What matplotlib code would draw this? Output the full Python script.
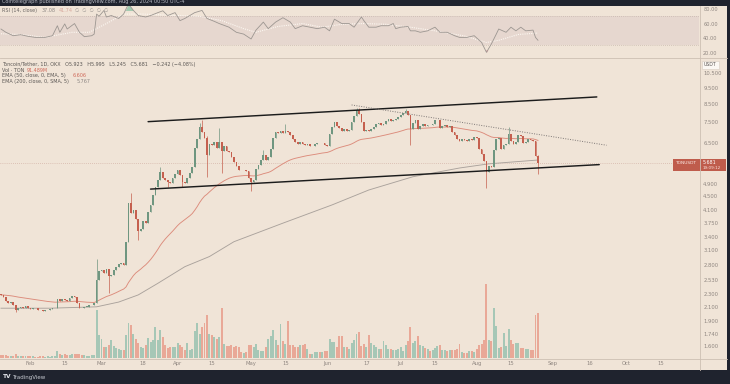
import numpy as np
import pandas as pd
import matplotlib
matplotlib.use("Agg")
import matplotlib.pyplot as plt
import matplotlib.dates as mdates
from matplotlib.patches import Rectangle
from matplotlib.ticker import FixedLocator, FixedFormatter, NullLocator

W, H = 730, 384

# ---- daily TON/USDT candles, 2024-01-20 .. 2024-08-26 ----
dates = pd.date_range("2024-01-20", "2024-08-26", freq="D")
first_open = 2.30
closes = [
    # Jan 20-31
    2.28, 2.24, 2.18, 2.16, 2.17, 2.13, 2.06, 2.08, 2.10, 2.09, 2.11, 2.08,
    # Feb
    2.07, 2.09, 2.08, 2.06, 2.05, 2.04, 2.05, 2.06, 2.07, 2.08, 2.09, 2.21, 2.18, 2.22, 2.20,
    2.19, 2.23, 2.27, 2.24, 2.16, 2.09, 2.08, 2.10, 2.10, 2.12, 2.13, 2.15, 2.52, 2.68,
    # Mar
    2.70, 2.66, 2.72, 2.60, 2.62, 2.70, 2.76, 2.82, 2.84, 2.80, 3.29, 4.30, 4.02, 4.10, 3.85,
    3.55, 3.60, 3.80, 3.75, 4.05, 4.25, 4.55, 4.80, 5.05, 5.33, 5.10, 5.05, 4.95, 4.92, 5.10, 5.25,
    # Apr
    5.40, 5.20, 4.95, 4.92, 5.10, 5.30, 5.50, 6.30, 6.70, 7.27, 7.00, 6.72, 6.00, 6.45, 6.40,
    6.55, 6.30, 6.55, 6.15, 6.35, 6.15, 6.10, 5.90, 5.70, 5.55, 5.40, 5.38, 5.40, 5.35, 5.10,
    # May
    4.95, 5.05, 5.45, 5.60, 5.80, 6.00, 5.80, 5.90, 6.25, 6.75, 7.00, 6.95, 7.05, 6.98, 7.05,
    7.00, 6.85, 6.70, 6.55, 6.45, 6.55, 6.45, 6.40, 6.45, 6.35, 6.38, 6.45, 6.50, 6.48, 6.52, 6.42,
    # Jun
    6.38, 6.90, 7.25, 7.52, 7.30, 7.20, 7.05, 7.15, 7.05, 7.10, 7.50, 7.85, 8.15, 7.95, 7.50,
    7.05, 7.12, 7.05, 7.15, 7.25, 7.40, 7.45, 7.38, 7.42, 7.55, 7.65, 7.55, 7.62, 7.68, 7.75,
    # Jul
    7.90, 8.00, 8.10, 7.90, 7.16, 7.45, 7.62, 7.15, 7.30, 7.40, 7.30, 7.38, 7.35, 7.42, 7.60,
    7.62, 7.22, 7.30, 7.35, 7.28, 7.30, 7.00, 6.85, 6.70, 6.60, 6.68, 6.62, 6.60, 6.70, 6.65, 6.78,
    # Aug 1-26
    6.75, 6.22, 6.02, 5.75, 5.33, 5.55, 5.50, 6.20, 6.70, 6.72, 6.25, 6.40, 6.45, 6.90, 6.60,
    6.45, 6.55, 6.85, 6.82, 6.50, 6.55, 6.70, 6.65, 6.58, 5.923, 5.681,
]
volumes = [  # million TON
    7, 6, 6, 5, 5, 5, 8, 5, 4, 4, 5, 4,
    4, 4, 3, 3, 4, 4, 3, 4, 3, 4, 5, 15, 8, 7, 8, 7, 6, 8, 9, 8, 9, 7, 6, 5, 5, 6, 7, 97, 46,
    39, 22, 22, 26, 36, 24, 20, 18, 16, 16, 46, 71, 67, 49, 39, 30, 22, 20, 26, 41, 33, 36, 63,
    36, 56, 43, 26, 20, 22, 22, 22,
    30, 26, 22, 16, 30, 16, 18, 54, 71, 49, 63, 70, 88, 49, 46, 43, 39, 43, 102, 29, 25, 24, 26,
    23, 24, 22, 12, 11, 13, 26,
    26, 22, 28, 16, 15, 14, 22, 39, 45, 56, 36, 26, 68, 35, 29, 74, 26, 26, 22, 22, 26, 26, 29,
    18, 9, 9, 12, 12, 12, 12, 14,
    14, 38, 33, 33, 22, 44, 44, 22, 22, 18, 30, 36, 49, 53, 24, 29, 22, 47, 30, 26, 22, 18, 18,
    34, 26, 18, 18, 16, 16, 18,
    22, 14, 26, 34, 62, 30, 34, 44, 26, 24, 20, 18, 14, 16, 20, 24, 26, 16, 16, 14, 16, 16, 16,
    18, 28, 12, 10, 10, 14, 14, 12,
    18, 26, 28, 37, 150, 36, 34, 101, 65, 20, 22, 51, 25, 59, 36, 28, 30, 30, 20, 20, 18, 18,
    17, 17, 87, 91.489,
]
wick_high = {"2024-02-28": 2.93, "2024-03-13": 4.59, "2024-03-25": 5.50, "2024-04-10": 7.45,
             "2024-04-11": 7.64, "2024-04-13": 6.80, "2024-04-18": 7.20, "2024-05-06": 6.20,
             "2024-05-15": 7.43, "2024-06-13": 8.25, "2024-06-14": 8.30, "2024-07-03": 8.20,
             "2024-08-14": 7.27, "2024-08-26": 5.995}
wick_low = {"2024-01-26": 2.03, "2024-03-04": 2.31, "2024-03-16": 3.33, "2024-03-28": 4.80,
            "2024-04-03": 4.80, "2024-04-13": 5.15, "2024-04-19": 5.30, "2024-05-01": 4.66,
            "2024-07-05": 6.43, "2024-08-05": 4.76, "2024-08-26": 5.245}

# 200-day SMA
sma200_dates = ["2024-01-20", "2024-02-09", "2024-02-28", "2024-03-08", "2024-03-16",
                "2024-03-24", "2024-04-04", "2024-04-14", "2024-04-24", "2024-05-14",
                "2024-06-03", "2024-06-18", "2024-07-06", "2024-07-25", "2024-08-06", "2024-08-26"]
sma200_vals = [2.08, 2.08, 2.10, 2.17, 2.28, 2.47, 2.77, 2.97, 3.29, 3.74, 4.24, 4.70, 5.15,
               5.47, 5.63, 5.78]

# RSI pane (days after 2024-02-01)
rsi_days = [-12, -10, -7, -4, -1, 2, 6, 9, 11, 12, 14, 15, 18, 20, 22, 25, 26, 27, 28, 30, 31,
            33, 36, 38, 40, 42, 44, 47, 49, 52, 54, 56, 59, 61, 63, 67, 70, 72, 75, 77, 81, 84,
            87, 90, 92, 95, 97, 100, 103, 106, 108, 111, 114, 117, 120, 122, 124, 126, 127, 130,
            132, 135, 136, 138, 141, 143, 146, 148, 149, 151, 154, 155, 157, 159, 162, 165, 167,
            170, 173, 175, 178, 181, 184, 186, 188, 190, 191, 194, 196, 198, 200, 202, 205, 206,
            207]
rsi_vals = [52.5, 48, 43.3, 44.7, 42.5, 41, 41, 43.3, 57, 48, 59.5, 52.5, 60, 48, 42, 43.3,
            45.5, 73, 70, 78, 69, 71, 67, 73, 87, 78, 71, 69, 71, 75, 77.5, 71, 75, 64, 67, 75,
            78, 67, 63, 60, 55, 48, 45.5, 38.8, 51, 62, 53, 62, 68, 62, 53, 57, 55, 53, 55, 50,
            66, 62, 60, 60, 55, 69, 64, 55, 55, 57, 57, 60, 53, 55, 56, 50, 50, 48, 50, 55, 48,
            48, 43.3, 41, 41, 43.3, 34.2, 20.5, 32, 45.5, 52.5, 48, 55, 50, 55, 50, 51, 41, 37.08]
rsi_ma_days = [-12, -4, 6, 17, 24, 31, 38, 46, 53, 60, 69, 78, 87, 92, 101, 111, 119, 127, 136,
               145, 155, 165, 177, 186, 191, 199, 207]
rsi_ma_vals = [46, 45, 41, 48, 48, 60, 73, 73, 72, 71, 70, 64, 53, 48, 56, 60, 55, 59, 60, 59,
               55, 50, 43, 34, 37, 45, 47]

# drawn trendlines (date, price)
channel_top_dates, channel_top_vals = ["2024-03-20", "2024-09-19"], [7.53, 8.93]
channel_bot_dates, channel_bot_vals = ["2024-03-21", "2024-09-20"], [4.73, 5.60]
resist_dates, resist_vals = ["2024-06-11", "2024-09-23"], [8.45, 6.40]

price_ticks = [10.5, 9.5, 8.5, 7.5, 6.5, 4.9, 4.5, 4.1, 3.75, 3.4, 3.1, 2.8, 2.53, 2.3, 2.1,
               1.9, 1.74, 1.6]
rsi_ticks = [80, 60, 40, 20]
time_ticks = ["2024-02-01", "2024-02-15", "2024-03-01", "2024-03-18", "2024-04-01",
              "2024-04-15", "2024-05-01", "2024-05-15", "2024-06-01", "2024-06-17",
              "2024-07-01", "2024-07-15", "2024-08-01", "2024-08-15", "2024-09-01",
              "2024-09-16", "2024-10-01", "2024-10-15"]
time_labels = ["Feb", "15", "Mar", "18", "Apr", "15", "May", "15", "Jun", "17", "Jul", "15",
               "Aug", "15", "Sep", "16", "Oct", "15"]

# colours
BG = "#f0e4d7"
DARK = "#1f232e"
UP, DOWN = "#6f9680", "#c5604f"
VUP, VDOWN = "#a6c7b6", "#e9a897"
AXC = "#8f8680"
SEP = "#cdbfb3"

opens = [first_open] + closes[:-1]
highs, lows = [], []
for d, o, c in zip(dates, opens, closes):
    k = d.strftime("%Y-%m-%d")
    highs.append(wick_high.get(k, max(o, c)))
    lows.append(wick_low.get(k, min(o, c)))

xs = mdates.date2num(dates)
base = mdates.date2num(pd.Timestamp("2024-02-01"))
xlim = (base - 12.40, base + 272.68)
ema50 = pd.Series(closes).ewm(span=50, adjust=False).mean()

def frac(x0, y0, x1, y1):
    return [x0 / W, 1 - y1 / H, (x1 - x0) / W, (y1 - y0) / H]

fig = plt.figure(figsize=(W / 100, H / 100), dpi=100)
fig.patch.set_facecolor(BG)

# ---------------- main price pane ----------------
ax = fig.add_axes(frac(0, 57.5, 699, 358))
axv = ax.twinx()
ax.set_zorder(axv.get_zorder() + 1)
ax.patch.set_visible(False)
axv.patch.set_facecolor(BG)

up = np.array(closes) >= np.array(opens)
axv.bar(xs, volumes, width=0.8, color=[VUP if u else VDOWN for u in up], linewidth=0)
axv.set_ylim(0, 150 * 300 / 74)
axv.set_yticks([])
for s in axv.spines.values():
    s.set_visible(False)

ax.set_yscale("log")
cols = [UP if u else DOWN for u in up]
ax.vlines(xs, lows, highs, colors=cols, linewidth=0.5, zorder=3)
body_lo = np.minimum(opens, closes)
body_h = np.maximum(np.abs(np.array(closes) - np.array(opens)), body_lo * 0.004)
ax.bar(xs, body_h, bottom=body_lo, width=0.7, color=cols, linewidth=0, zorder=4)

ax.plot(xs, ema50, color="#dc8b7b", lw=0.65, zorder=2)
ax.plot(mdates.date2num(pd.to_datetime(sma200_dates)), sma200_vals, color="#aaa29c", lw=0.65,
        zorder=2)

for dd, vv in [(channel_top_dates, channel_top_vals), (channel_bot_dates, channel_bot_vals)]:
    ax.plot(mdates.date2num(pd.to_datetime(dd)), vv, color="#1c1c1c", lw=1.05, zorder=5,
            solid_capstyle="round")
ax.plot(mdates.date2num(pd.to_datetime(resist_dates)), resist_vals, color="#7d7775", lw=0.7,
        ls=(0, (1, 1.5)), zorder=5)
ax.axhline(closes[-1], color="#c9a297", lw=0.5, ls=(0, (1, 2)), zorder=1)

ax.set_xlim(*xlim)
ax.set_ylim(np.exp((414.4 - 358) / 145), np.exp((414.4 - 57.5) / 145))
ax.yaxis.tick_right()
ax.yaxis.set_major_locator(FixedLocator(price_ticks))
ax.yaxis.set_major_formatter(FixedFormatter(["%.3f" % t for t in price_ticks]))
ax.yaxis.set_minor_locator(NullLocator())
ax.set_xticks(mdates.date2num(pd.to_datetime(time_ticks)))
ax.set_xticklabels(time_labels)
ax.tick_params(axis="y", length=0, pad=3, labelsize=3.8, colors=AXC)
ax.tick_params(axis="x", length=0, pad=2.2, labelsize=3.8, colors=AXC)
for s in ax.spines.values():
    s.set_visible(False)

# ---------------- RSI pane ----------------
axr = fig.add_axes(frac(0, 5.7, 699, 57.5))
axr.set_facecolor(BG)
axr.axhspan(30, 70, color="#e6d7cf", lw=0, zorder=0)
for lvl in (70, 30):
    axr.axhline(lvl, color="#b9a99f", lw=0.5, ls=(0, (1, 2)), zorder=1)
rx = base + np.array(rsi_days)
rv = np.array(rsi_vals)
axr.fill_between(rx, rv, 78, where=rv > 78, interpolate=True, color="#8dc4a5", alpha=0.8,
                 lw=0, zorder=2)
axr.fill_between(rx, rv, 24, where=rv < 24, interpolate=True, color="#e7a0a0", alpha=0.8,
                 lw=0, zorder=2)
axr.plot(base + np.array(rsi_ma_days), rsi_ma_vals, color="#fcf7f1", lw=0.8, ls=(0, (1, 1)),
         zorder=3)
axr.plot(rx, rv, color="#9c9691", lw=0.6, zorder=4)
axr.set_xlim(*xlim)
axr.set_ylim(13.4, 84.5)
axr.set_xticks([])
axr.yaxis.tick_right()
axr.set_yticks(rsi_ticks)
axr.set_yticklabels(["%.2f" % t for t in rsi_ticks])
axr.tick_params(axis="y", length=0, pad=3, labelsize=3.6, colors=AXC)
for s in axr.spines.values():
    s.set_visible(False)

# ---------------- frame & labels ----------------
ov = fig.add_axes([0, 0, 1, 1], zorder=20)
ov.set_xlim(0, W)
ov.set_ylim(H, 0)
ov.axis("off")
ov.patch.set_alpha(0)

ov.add_patch(Rectangle((0, 0), W, 5.7, color=DARK, lw=0))
ov.add_patch(Rectangle((0, 370), W, H - 370, color=DARK, lw=0))
ov.add_patch(Rectangle((727, 0), 3, H, color=DARK, lw=0))
ov.plot([0, 727], [57.5, 57.5], color=SEP, lw=0.6)
ov.plot([0, 727], [358.5, 358.5], color=SEP, lw=0.6)
ov.plot([699.5, 699.5], [5.7, 370], color=SEP, lw=0.6)

ov.text(2, 1.8, "Cointelegraph published on TradingView.com, Aug 26, 2024 00:50 UTC-4",
        fontsize=3.6, color="#b6b9c2", va="center", ha="left")
ov.text(3, 377, "TV", fontsize=4.2, color="#e4e6eb", va="center", ha="left", weight="bold")
ov.text(12, 377, "TradingView", fontsize=4.0, color="#c9ccd3", va="center", ha="left")

# USDT unit box
ov.add_patch(Rectangle((701.5, 60.5), 17, 8, facecolor="#fbf8f4", edgecolor="#d8ccc2", lw=0.4))
ov.text(710, 64.6, "USDT", fontsize=3.3, color="#5a5552", ha="center", va="center")

# last price box
ov.add_patch(Rectangle((673, 158.5), 53, 12.5, color="#bf5c4c", lw=0))
ov.text(686, 162.5, "TONUSDT", fontsize=3.2, color="#fbe9e4", ha="center", va="center")
ov.text(703, 162.5, "%.3f" % closes[-1], fontsize=3.4, color="#ffffff", ha="left", va="center")
ov.text(703, 167.8, "19:09:12", fontsize=3.0, color="#fbe3dd", ha="left", va="center")

# legends
lg = dict(fontsize=3.5, va="center", ha="left")
ov.text(2, 64.3, "Toncoin/Tether, 1D, OKX   O5.923   H5.995   L5.245   C5.681   "
        "\u22120.242 (\u22124.08%)", color="#5c5855", **lg)
ov.text(2, 70.3, "Vol \u00b7 TON", color="#5c5855", **lg)
ov.text(27, 70.3, "91.489M", color="#cf6a5a", **lg)
ov.text(2, 75.9, "EMA (50, close, 0, EMA, 5)", color="#5c5855", **lg)
ov.text(73, 75.9, "6.606", color="#cf6a5a", **lg)
ov.text(2, 81.7, "EMA (200, close, 0, SMA, 5)", color="#5c5855", **lg)
ov.text(77, 81.7, "5.767", color="#8d8683", **lg)
ov.text(2, 10.8, "RSI (14, close)", color="#6c6764", **lg)
ov.text(42, 10.8, "37.08", color="#8f8985", **lg)
ov.text(59, 10.8, "41.74", color="#d7a89d", **lg)
ov.text(75, 10.8, "\u2205  \u2205  \u2205  \u2205  \u2205", color="#9a9490", **lg)

fig.savefig("out.png", dpi=100, facecolor=fig.get_facecolor())
